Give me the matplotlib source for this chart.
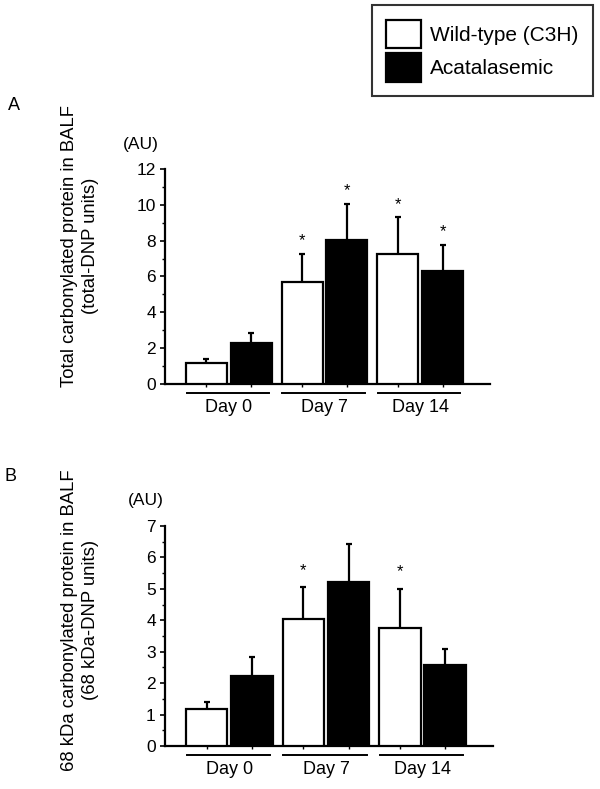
import matplotlib
matplotlib.use('Agg')
import matplotlib.pyplot as plt
from matplotlib.patches import Patch
from matplotlib.ticker import MultipleLocator
import matplotlib.transforms as mtransforms
import numpy as np

plt.rcParams['font.family'] = ['Liberation Sans', 'DejaVu Sans']

# data
groups = ['Day 0', 'Day 7', 'Day 14']
series = ['Wild-type (C3H)', 'Acatalasemic']

a_wt = [1.18, 5.72, 7.28]
a_wt_err = [0.21, 1.56, 2.02]
a_cat = [2.30, 8.06, 6.30]
a_cat_err = [0.53, 1.98, 1.48]
a_wt_sig = [False, True, True]
a_cat_sig = [False, True, True]

b_wt = [1.19, 4.04, 3.74]
b_wt_err = [0.22, 1.01, 1.26]
b_cat = [2.22, 5.21, 2.59]
b_cat_err = [0.61, 1.21, 0.49]
b_wt_sig = [False, True, True]
b_cat_sig = [False, False, False]

W, H = 600, 789
fig = plt.figure(figsize=(W / 100, H / 100), dpi=100)
fig.patch.set_facecolor('white')


def px_axes(left, right, bottom, top):
    return fig.add_axes([left / W, 1 - bottom / H, (right - left) / W, (bottom - top) / H])


def draw_panel(ax, wt, wt_err, cat, cat_err, wt_sig, cat_sig, ymax, major, star_pt):
    x = np.arange(len(groups))
    off = 0.234
    width = 0.427
    for xs, vals, errs, sigs, color in [(x - off, wt, wt_err, wt_sig, 'white'),
                                        (x + off, cat, cat_err, cat_sig, 'black')]:
        ax.bar(xs, vals, width=width, color=color, edgecolor='black', linewidth=1.6, zorder=3)
        tops = np.array(vals) + np.array(errs)
        ax.vlines(xs, vals, tops, color='black', linewidth=1.6, zorder=2)
        ax.plot(xs, tops, linestyle='none', marker='_', markersize=4,
                markeredgewidth=1.6, color='black', zorder=2)
        for xi, t, s in zip(xs, tops, sigs):
            if s:
                ax.annotate('*', (xi, t), xytext=(0, star_pt), textcoords='offset points',
                            ha='center', va='baseline', fontsize=12)

    ax.set_xlim(-0.667, 2.73)
    ax.set_ylim(0, ymax)
    ax.spines['top'].set_visible(False)
    ax.spines['right'].set_visible(False)
    ax.spines['left'].set_linewidth(1.6)
    ax.spines['bottom'].set_linewidth(1.6)
    ax.yaxis.set_major_locator(MultipleLocator(major))
    ax.yaxis.set_minor_locator(MultipleLocator(major / 2))
    ax.tick_params(axis='y', which='major', direction='out', length=3.6, width=1.2,
                   pad=3, labelsize=12.5)
    ax.tick_params(axis='y', which='minor', direction='out', length=2, width=1.0)
    ax.set_xticks(np.concatenate([x - off, x + off]))
    ax.tick_params(axis='x', direction='out', length=2, width=1.0, labelbottom=False)

    trans = mtransforms.blended_transform_factory(ax.transData, ax.transAxes)
    for xi, g in zip(x, groups):
        ax.plot([xi - 0.44, xi + 0.42], [-0.042, -0.042], color='black', linewidth=1.4,
                transform=trans, clip_on=False)
        ax.annotate(g, (xi, 0), xycoords=trans, xytext=(0, -16.8), textcoords='offset points',
                    ha='center', va='center', fontsize=13)


# panel A
ax1 = px_axes(165, 490, 384, 169)
draw_panel(ax1, a_wt, a_wt_err, a_cat, a_cat_err, a_wt_sig, a_cat_sig, 12, 2, 6.2)
fig.text(14 / W, 1 - 105 / H, 'A', fontsize=13, ha='center', va='center')
fig.text(141 / W, 1 - 145 / H, '(AU)', fontsize=12.5, ha='center', va='center')
fig.text(80 / W, 1 - 246 / H, 'Total carbonylated protein in BALF\n(total-DNP units)',
         rotation=90, ha='center', va='center', multialignment='center',
         fontsize=13.3, linespacing=1.25)

# panel B
ax2 = px_axes(165, 493, 746, 526)
draw_panel(ax2, b_wt, b_wt_err, b_cat, b_cat_err, b_wt_sig, b_cat_sig, 7, 1, 9)
fig.text(11 / W, 1 - 477 / H, 'B', fontsize=13, ha='center', va='center')
fig.text(146 / W, 1 - 500 / H, '(AU)', fontsize=12.5, ha='center', va='center')
fig.text(80 / W, 1 - 620 / H, '68 kDa carbonylated protein in BALF\n(68 kDa-DNP units)',
         rotation=90, ha='center', va='center', multialignment='center',
         fontsize=13.3, linespacing=1.25)

# legend
handles = [Patch(facecolor='white', edgecolor='black', linewidth=1.6, label=series[0]),
           Patch(facecolor='black', edgecolor='black', linewidth=1.6, label=series[1])]
leg = fig.legend(handles=handles, loc='upper right', bbox_to_anchor=(593 / W, 1 - 5 / H),
                 fontsize=15, frameon=True, fancybox=False, handlelength=1.65,
                 handleheight=1.75, handletextpad=0.45, labelspacing=0.22, borderpad=0.7,
                 borderaxespad=0)
leg.get_frame().set_edgecolor('black')
leg.get_frame().set_linewidth(1.5)

fig.savefig('out.png', dpi=100, facecolor='white')
